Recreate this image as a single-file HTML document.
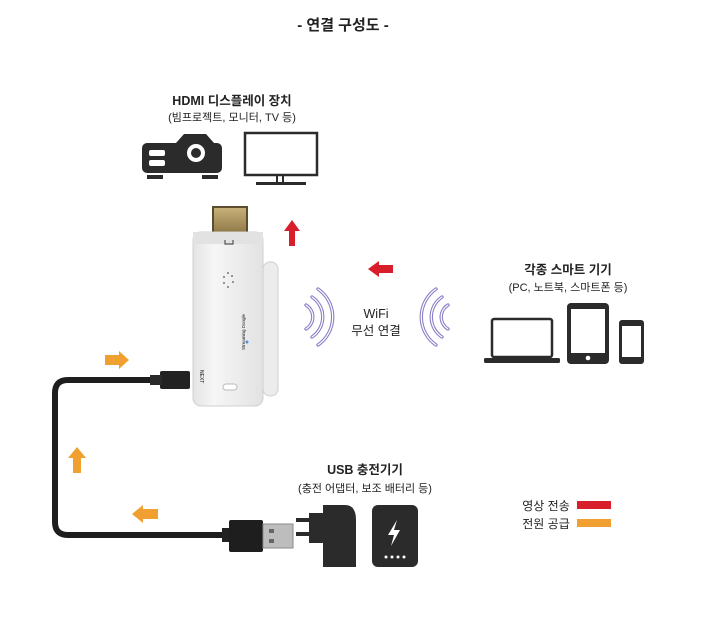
<!DOCTYPE html>
<html><head><meta charset="utf-8"><style>
body{margin:0;background:#fff}
svg{display:block}
text{font-family:"Liberation Sans","Noto Sans CJK KR",sans-serif;fill:#222}
</style></head><body>
<svg width="720" height="635" viewBox="0 0 720 635" xmlns="http://www.w3.org/2000/svg">
<defs>
<linearGradient id="dg" x1="0" x2="1"><stop offset="0" stop-color="#e4e4e4"/><stop offset="0.3" stop-color="#f6f6f6"/><stop offset="1" stop-color="#e2e2e2"/></linearGradient>
<linearGradient id="gold" x1="0" x2="0" y1="0" y2="1"><stop offset="0" stop-color="#c9b27a"/><stop offset="1" stop-color="#8a7444"/></linearGradient>
</defs>
<text x="343" y="30" font-size="15" font-weight="bold" text-anchor="middle">- 연결 구성도 -</text>

<text x="232" y="105" font-size="12.5" font-weight="bold" text-anchor="middle">HDMI 디스플레이 장치</text>
<text x="232" y="121" font-size="11" text-anchor="middle">(빔프로젝트, 모니터, TV 등)</text>
<!-- projector -->
<rect x="142" y="143" width="80" height="30" rx="5" fill="#2b2b2b"/>
<path d="M176 143 L184 134 L206 134 L214 143 Z" fill="#2b2b2b"/>
<circle cx="196" cy="153" r="13" fill="#2b2b2b"/>
<circle cx="196" cy="153" r="9" fill="#fff"/>
<circle cx="196" cy="153" r="5" fill="#2b2b2b"/>
<rect x="149" y="150" width="16" height="6" rx="2" fill="#fff"/>
<rect x="149" y="160" width="16" height="6" rx="2" fill="#fff"/>
<rect x="147" y="175" width="16" height="4" fill="#2b2b2b"/>
<rect x="202" y="175" width="16" height="4" fill="#2b2b2b"/>
<!-- TV -->
<rect x="245" y="133" width="72" height="42" fill="none" stroke="#2b2b2b" stroke-width="2.5"/>
<rect x="277" y="175" width="6" height="8" fill="none" stroke="#2b2b2b" stroke-width="2"/>
<rect x="256" y="182" width="50" height="3" fill="#2b2b2b"/>

<!-- cable -->
<path d="M160 380 L68 380 Q55 380 55 393 L55 522 Q55 535 68 535 L230 535" fill="none" stroke="#1e1e1e" stroke-width="6"/>
<rect x="160" y="371" width="30" height="18" rx="2" fill="#222"/>
<rect x="150" y="375" width="12" height="10" fill="#2a2a2a"/>
<!-- dongle -->
<rect x="213" y="207" width="34" height="28" fill="url(#gold)" stroke="#5a4c2c" stroke-width="2"/>
<rect x="263" y="262" width="15" height="134" rx="7" fill="#ececec" stroke="#cfcfcf"/>
<rect x="193" y="232" width="70" height="174" rx="8" fill="url(#dg)" stroke="#d0d0d0"/>
<rect x="193" y="232" width="70" height="12" fill="#e2e2e2"/>
<path d="M225 240 L225 244 L233 244 L233 240" fill="none" stroke="#555" stroke-width="1.2"/>
<g fill="#777"><circle cx="228" cy="273" r="1"/><circle cx="232" cy="276" r="1"/><circle cx="224" cy="277" r="1"/><circle cx="233" cy="282" r="1"/><circle cx="224" cy="283" r="1"/><circle cx="228" cy="287" r="1"/></g>
<rect x="223" y="384" width="14" height="6" rx="3" fill="#fff" stroke="#bbb"/>
<text x="0" y="0" font-size="5" fill="#666" transform="translate(200 370) rotate(90)">NEXT</text>
<text x="0" y="0" font-size="4.5" fill="#777" transform="translate(245 350) rotate(-90)">Streaming Dongle</text>
<circle cx="247" cy="342" r="1.5" fill="#4a8fe0"/>

<!-- red arrows -->
<path d="M292 220 L300 231 L295 231 L295 246 L289 246 L289 231 L284 231 Z" fill="#d81e2a"/>
<path d="M368 269 L379 261 L379 265 L393 265 L393 273 L379 273 L379 277 Z" fill="#d81e2a"/>

<!-- wifi arcs -->
<g fill="none" stroke="#8a7fc8" stroke-width="3.4" stroke-linecap="round">
<path d="M306 305 A14 14 0 0 1 306 329"/>
<path d="M312 297 A24 24 0 0 1 312 337"/>
<path d="M318 289 A34 34 0 0 1 318 345"/>
<path d="M448 305 A14 14 0 0 0 448 329"/>
<path d="M442 297 A24 24 0 0 0 442 337"/>
<path d="M436 289 A34 34 0 0 0 436 345"/>
</g>
<g fill="none" stroke="#fff" stroke-width="1.2" stroke-linecap="round">
<path d="M306 305 A14 14 0 0 1 306 329"/>
<path d="M312 297 A24 24 0 0 1 312 337"/>
<path d="M318 289 A34 34 0 0 1 318 345"/>
<path d="M448 305 A14 14 0 0 0 448 329"/>
<path d="M442 297 A24 24 0 0 0 442 337"/>
<path d="M436 289 A34 34 0 0 0 436 345"/>
</g>
<text x="376" y="318" font-size="12.5" text-anchor="middle">WiFi</text>
<text x="376" y="335" font-size="12.5" text-anchor="middle">무선 연결</text>

<!-- smart devices -->
<text x="568" y="274" font-size="12.5" font-weight="bold" text-anchor="middle">각종 스마트 기기</text>
<text x="568" y="291" font-size="11" text-anchor="middle">(PC, 노트북, 스마트폰 등)</text>
<rect x="492" y="319" width="60" height="38" rx="2" fill="none" stroke="#2b2b2b" stroke-width="2.5"/>
<rect x="484" y="358" width="76" height="5" rx="1.5" fill="#2b2b2b"/>
<rect x="567" y="303" width="42" height="61" rx="4" fill="#2b2b2b"/>
<rect x="571" y="309" width="34" height="44" fill="#fff"/>
<circle cx="588" cy="358" r="2.3" fill="#fff"/>
<rect x="619" y="320" width="25" height="44" rx="3" fill="#2b2b2b"/>
<rect x="622" y="326" width="19" height="31" fill="#fff"/>

<!-- orange arrows -->
<path d="M129 360 L119 351 L119 355 L105 355 L105 365 L119 365 L119 369 Z" fill="#f0a030"/>
<path d="M77 447 L86 458 L81 458 L81 473 L73 473 L73 458 L68 458 Z" fill="#f0a030"/>
<path d="M132 514 L143 505 L143 509 L158 509 L158 519 L143 519 L143 523 Z" fill="#f0a030"/>

<!-- USB plug -->
<rect x="222" y="528" width="10" height="14" fill="#222"/>
<rect x="229" y="520" width="34" height="32" rx="2" fill="#1e1e1e"/>
<rect x="263" y="524" width="30" height="24" fill="#bdbdbd" stroke="#8a8a8a"/>
<rect x="269" y="529" width="5" height="4" fill="#666"/><rect x="269" y="539" width="5" height="4" fill="#666"/>

<text x="365" y="474" font-size="12.5" font-weight="bold" text-anchor="middle">USB 충전기기</text>
<text x="365" y="492" font-size="11" text-anchor="middle">(충전 어댑터, 보조 배터리 등)</text>
<!-- adapter -->
<rect x="296" y="518" width="14" height="4" fill="#2b2b2b"/>
<rect x="296" y="532" width="14" height="4" fill="#2b2b2b"/>
<rect x="309" y="513" width="16" height="30" fill="#2b2b2b"/>
<path d="M323 505 L345 505 Q356 505 356 520 L356 567 L323 567 Z" fill="#2b2b2b"/>
<!-- power bank -->
<rect x="372" y="505" width="46" height="62" rx="6" fill="#2b2b2b"/>
<path d="M397 520 L388 535 L394 535 L391 546 L400 530 L394 530 Z" fill="#fff"/>
<g fill="#fff"><circle cx="386" cy="557" r="1.5"/><circle cx="392" cy="557" r="1.5"/><circle cx="398" cy="557" r="1.5"/><circle cx="404" cy="557" r="1.5"/></g>

<!-- legend -->
<text x="546" y="510" font-size="12" text-anchor="middle">영상 전송</text>
<rect x="577" y="501" width="34" height="8" fill="#d81e2a"/>
<text x="546" y="528" font-size="12" text-anchor="middle">전원 공급</text>
<rect x="577" y="519" width="34" height="8" fill="#f0a030"/>
</svg>
</body></html>
